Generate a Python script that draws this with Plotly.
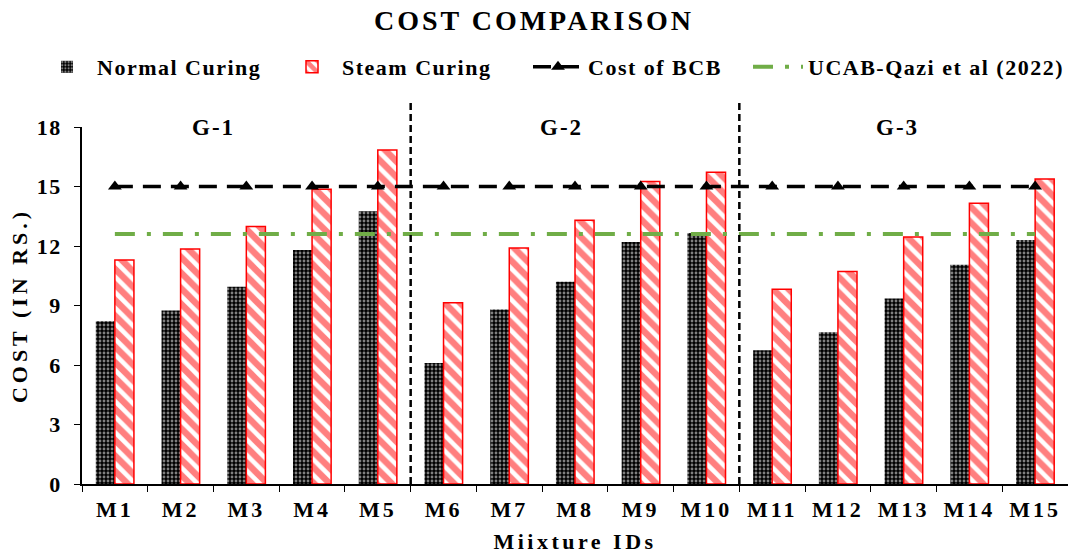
import plotly.graph_objects as go

mixes = ["M1", "M2", "M3", "M4", "M5", "M6", "M7", "M8", "M9", "M10",
         "M11", "M12", "M13", "M14", "M15"]
normal_curing = [8.2, 8.75, 9.95, 11.8, 13.75, 6.1, 8.8, 10.2, 12.2, 12.65,
                 6.75, 7.65, 9.35, 11.05, 12.3]
steam_curing = [11.3, 11.85, 12.98, 14.86, 16.84, 9.14, 11.9, 13.3, 15.25, 15.72,
                9.82, 10.72, 12.45, 14.15, 15.38]
bcb_cost = [15] * 15
ucab_cost = [12.6] * 15
groups = ["G-1", "G-2", "G-3"]
group_pos = [1.5, 6.8, 11.9]
group_bounds = [4.5, 9.5]
y_ticks = [0, 3, 6, 9, 12, 15, 18]

FONT = "Liberation Serif"


def sp(text, ls):
    return '<span style="letter-spacing:%spx"><b>%s</b></span>' % (ls, text)


fig = go.Figure()
fig.add_trace(go.Bar(
    x=mixes, y=normal_curing, name=sp("Normal Curing", 1.5), legend="legend",
    marker=dict(color="black",
                pattern=dict(shape=".", bgcolor="black", fgcolor="white",
                             size=4, solidity=0.4),
                line=dict(width=0)),
))
fig.add_trace(go.Bar(
    x=mixes, y=steam_curing, name=sp("Steam Curing", 1.5), legend="legend2",
    marker=dict(color="white",
                pattern=dict(shape="\\", bgcolor="white", fgcolor="#FF0000",
                             size=11, solidity=0.58),
                line=dict(color="#FF0000", width=1.5)),
))
fig.add_trace(go.Scatter(
    x=mixes, y=bcb_cost, name=sp("Cost of BCB", 1.5), mode="lines+markers",
    legend="legend3",
    line=dict(color="black", width=3.5, dash="18px,10px"),
    marker=dict(symbol="triangle-up", size=12, color="black"),
))
fig.add_trace(go.Scatter(
    x=mixes, y=ucab_cost, name=sp("UCAB-Qazi et al (2022)", 1.5), mode="lines",
    legend="legend4",
    line=dict(color="#70AD47", width=4, dash="20px,12px,4px,12px"),
))

for b in group_bounds:
    fig.add_shape(type="line", xref="x", yref="paper", x0=b, x1=b, y0=0, y1=1.067,
                  line=dict(color="black", width=2.5, dash="7px,4px"))

for g, p in zip(groups, group_pos):
    fig.add_annotation(x=p, y=18, xref="x", yref="y", text=sp(g, 2),
                       showarrow=False, font=dict(family=FONT, size=23, color="black"),
                       yanchor="middle")


def leg(xpx):
    return dict(orientation="h", xref="container", yref="container",
                x=xpx / 1068, y=1 - 67 / 554, yanchor="middle", xanchor="left",
                font=dict(family=FONT, size=22, color="black"),
                itemwidth=50, bgcolor="rgba(0,0,0,0)")


fig.update_layout(
    width=1068, height=554,
    margin=dict(l=82, r=0, t=127, b=70),
    paper_bgcolor="white", plot_bgcolor="white",
    font=dict(family=FONT, color="black"),
    title=dict(text=sp("COST COMPARISON", 3), x=0.5, xref="container", y=1 - 20 / 554,
               yanchor="middle", xanchor="center",
               font=dict(family=FONT, size=28, color="black")),
    barmode="group", bargap=0.42, bargroupgap=0,
    legend=leg(37), legend2=leg(282), legend3=leg(528), legend4=leg(748),
    showlegend=True,
)
fig.update_xaxes(
    showline=True, linecolor="black", linewidth=1.5,
    ticks="outside", ticklen=6, tickcolor="black", tickson="boundaries",
    tickfont=dict(family=FONT, size=22, color="black"), ticklabelstandoff=5,
    tickvals=list(range(15)), ticktext=[sp(m, 3) for m in mixes],
    title=dict(text=sp("Miixture IDs", 3.5), font=dict(family=FONT, size=22, color="black"),
               standoff=12),
    showgrid=False, range=[-0.5, 14.5], automargin=False,
)
fig.update_yaxes(
    range=[0, 18], tickvals=y_ticks, ticktext=[sp(str(v), 1.5) for v in y_ticks],
    showline=True, linecolor="black", linewidth=1.5,
    ticks="outside", ticklen=6, tickcolor="black", ticklabelstandoff=8,
    tickfont=dict(family=FONT, size=22, color="black"),
    title=dict(text=sp("COST (IN RS.)", 4), font=dict(family=FONT, size=22, color="black"),
               standoff=3),
    showgrid=False, zeroline=False, automargin=False,
)

fig.write_html("out.html")
